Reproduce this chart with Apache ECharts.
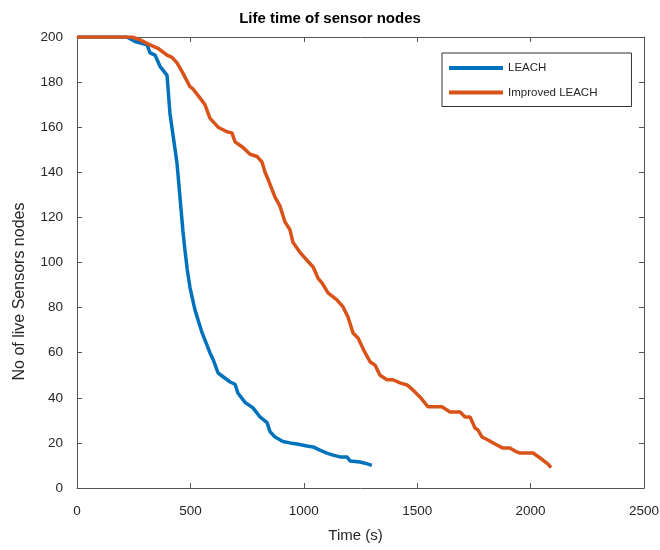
<!DOCTYPE html>
<html>
<head>
<meta charset="utf-8">
<script src="https://cdn.jsdelivr.net/npm/echarts@6/dist/echarts.min.js"></script>
<style>html,body{margin:0;padding:0;background:#fff}#chart{width:660px;height:550px}</style>
</head>
<body>
<div id="chart"></div>
<script>
var titleText = 'Life time of sensor nodes';
var xName = 'Time (s)';
var yName = 'No of live Sensors nodes';
var seriesNames = ['LEACH', 'Improved LEACH'];

var leachX = [0,220,256,309,322,344,366,397,410,441,467,476,486,498,520,551,586,600,622,675,697,710,741,776,807,838,851,873,908,939,970,1014,1041,1071,1102,1129,1160,1190,1204,1248,1270,1300];
var leachY = [200,200,198,196.5,193,192,187,183,166,144,114,105.5,97,89,79,69,60,57,51,47,46,42,38,35.5,31.5,29,25,22.6,20.6,20,19.5,18.6,18.2,16.8,15.5,14.6,13.8,13.8,12,11.5,11,10];

var improvedX = [0,243,278,322,357,397,419,441,467,498,511,542,564,586,622,661,683,697,732,763,794,816,829,842,873,895,917,939,952,983,1014,1041,1063,1080,1107,1146,1173,1195,1217,1239,1270,1292,1314,1336,1367,1393,1424,1455,1481,1512,1548,1609,1645,1689,1711,1733,1755,1768,1786,1812,1843,1878,1909,1931,1953,2011,2042,2077,2090];
var improvedY = [200,200,198.7,196.5,195,192,191,188.5,184,178,177,173,170,164,160,158,157.5,153.5,151,148,147,144.5,140,137,129,125,118,114.5,109,104.5,101,98,93,91,86.5,83.4,80.3,75.8,68.7,66.5,60,56,54.5,50,48,48,46.6,45.7,43.5,40.4,36,36,33.7,33.7,31.5,31.5,26.6,25.7,22.6,21.3,19.5,17.7,17.7,16.4,15.5,15.5,13.3,10.6,9];

var xTicks = [0,500,1000,1500,2000,2500];
var yTicks = [0,20,40,60,80,100,120,140,160,180,200];

function pairs(xs, ys){ return xs.map(function(x,i){ return [x, ys[i]]; }); }
function plain(v){ return String(v); }

var FONT = '"Liberation Sans", Arial, Helvetica, sans-serif';
var axisColor = '#555555';
var textColor = '#262626';

var chart = echarts.init(document.getElementById('chart'), null, {renderer: 'canvas'});
var xMin = xTicks[0], xMax = xTicks[xTicks.length-1], xInt = xTicks[1]-xTicks[0];
var yMin = yTicks[0], yMax = yTicks[yTicks.length-1], yInt = yTicks[1]-yTicks[0];

chart.setOption({
  animation: false,
  backgroundColor: '#ffffff',
  title: {
    text: titleText,
    left: 'center',
    top: 6,
    textStyle: {fontFamily: FONT, fontSize: 15, fontWeight: 'bold', color: '#000'}
  },
  grid: {left: 77, right: 16, top: 37, bottom: 62, containLabel: false, outerBoundsMode: 'none'},
  legend: {
    orient: 'vertical',
    left: 442,
    top: 53,
    data: seriesNames,
    icon: 'rect',
    itemWidth: 54,
    itemHeight: 4,
    itemGap: 10.5,
    padding: [8, 34, 7, 7],
    borderColor: '#333333',
    borderWidth: 1,
    backgroundColor: '#ffffff',
    textStyle: {fontFamily: FONT, fontSize: 11.5, color: textColor, lineHeight: 14}
  },
  xAxis: [{
    type: 'value', min: xMin, max: xMax, interval: xInt,
    name: xName, nameLocation: 'middle', nameGap: 40,
    nameTextStyle: {fontFamily: FONT, fontSize: 15, color: textColor, padding: [0, 10, 0, 0]},
    axisLine: {show: true, onZero: false, lineStyle: {color: axisColor, width: 1}},
    axisTick: {show: true, inside: true, length: 5, lineStyle: {color: axisColor}},
    axisLabel: {fontFamily: FONT, fontSize: 13.5, color: textColor, margin: 16, formatter: plain},
    splitLine: {show: false}
  }, {
    type: 'value', min: xMin, max: xMax, interval: xInt, position: 'top',
    axisLine: {show: true, onZero: false, lineStyle: {color: axisColor, width: 1}},
    axisTick: {show: true, inside: true, length: 5, lineStyle: {color: axisColor}},
    axisLabel: {show: false},
    splitLine: {show: false}
  }],
  yAxis: [{
    type: 'value', min: yMin, max: yMax, interval: yInt,
    name: yName, nameLocation: 'middle', nameGap: 49,
    nameTextStyle: {fontFamily: FONT, fontSize: 16, color: textColor, padding: [0, 58, 0, 0]},
    axisLine: {show: true, onZero: false, lineStyle: {color: axisColor, width: 1}},
    axisTick: {show: true, inside: true, length: 5, lineStyle: {color: axisColor}},
    axisLabel: {fontFamily: FONT, fontSize: 13.5, color: textColor, margin: 14, formatter: plain},
    splitLine: {show: false}
  }, {
    type: 'value', min: yMin, max: yMax, interval: yInt, position: 'right',
    axisLine: {show: true, onZero: false, lineStyle: {color: axisColor, width: 1}},
    axisTick: {show: true, inside: true, length: 5, lineStyle: {color: axisColor}},
    axisLabel: {show: false},
    splitLine: {show: false}
  }],
  series: [{
    name: seriesNames[0], type: 'line', data: pairs(leachX, leachY),
    showSymbol: false, symbol: 'none', smooth: false,
    color: '#0072BD', lineStyle: {width: 3.5, color: '#0072BD'}, z: 3
  }, {
    name: seriesNames[1], type: 'line', data: pairs(improvedX, improvedY),
    showSymbol: false, symbol: 'none', smooth: false,
    color: '#D95319', lineStyle: {width: 3.5, color: '#D95319'}, z: 4
  }]
});
</script>
</body>
</html>
